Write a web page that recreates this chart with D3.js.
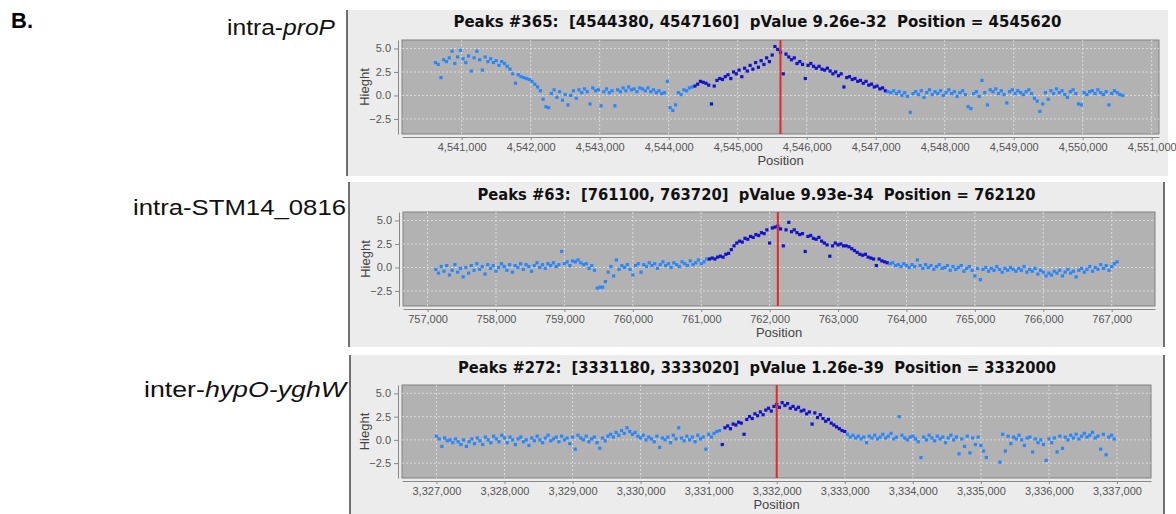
<!DOCTYPE html>
<html>
<head>
<meta charset="utf-8">
<script src="https://cdn.jsdelivr.net/npm/d3@7"></script>
<style>
  body { margin: 0; background: #fff; }
  svg { display: block; }
  .tick text { font-family: 'Liberation Sans', Arial, sans-serif; font-size: 11px; fill: #555; }
</style>
</head>
<body>
<svg id="chart" width="1176" height="514"></svg>
<script>
// peak info per track
var trackNames  = ['proP', 'STM14_0816', 'hypO-yghW'];
var peakIds     = ['365', '63', '272'];
var peakStarts  = [4544380, 761100, 3331180];
var peakEnds    = [4547160, 763720, 3333020];
var pValues     = ['9.26e-32', '9.93e-34', '1.26e-39'];
var peakCenters = [4545620, 762120, 3332000];

// first probe position of each track, probes every 40 bp
var sampleStarts = [4540620, 757120, 3327000];
var sampleStep = 40;

// heights (25 per 1000 bp)
var heightsProP = [
  3.5,3.3,1.9,3.8,3.6,4.0,4.7,3.4,4.1,4.8,3.9,3.5,4.2,2.6,4.0,4.7,3.8,2.7,4.1,3.6,3.9,3.5,3.7,3.2,3.6,
  3.4,3.1,2.8,2.3,1.3,2.2,2.0,1.9,1.8,1.7,1.5,1.2,0.9,0.5,-0.4,-1.2,-1.3,0.2,0.6,-0.2,0.4,-0.5,0.1,-1.0,0.0,
  0.5,-0.3,0.6,0.3,0.7,0.4,-0.9,0.8,0.5,0.6,-1.1,0.4,0.7,0.3,0.5,-1.1,0.6,0.4,0.8,0.5,0.9,0.6,0.7,0.4,0.8,
  0.7,0.5,0.8,0.4,0.6,0.3,0.5,0.2,0.3,1.5,-1.3,-1.6,-1.0,0.3,0.1,0.6,0.5,0.8,0.9,1.0,1.2,1.5,1.4,1.3,1.1,
  -0.9,1.0,1.6,1.8,1.7,2.0,2.2,1.8,2.5,2.3,2.7,2.0,2.9,2.6,3.2,2.8,3.5,3.0,3.7,3.3,4.0,3.6,4.3,5.2,4.9,
  4.6,2.3,4.4,4.1,3.8,4.0,3.4,3.6,3.3,1.8,3.2,3.4,3.1,2.9,3.1,2.8,2.7,2.9,2.6,2.3,2.5,2.1,2.3,0.9,1.9,
  2.0,1.7,1.8,1.5,1.6,1.3,1.5,1.1,1.2,0.9,1.0,0.7,0.8,0.5,0.4,0.3,0.5,0.2,0.4,0.0,0.3,-0.1,-1.8,0.2,0.4,
  0.1,0.5,-0.2,0.3,0.6,0.1,0.4,0.2,0.5,0.0,0.3,0.6,0.2,0.4,-0.1,0.3,0.5,0.1,-1.2,-1.4,0.2,0.4,-0.1,1.6,0.3,
  -1.0,0.6,0.4,0.7,0.2,0.5,0.1,-0.8,0.4,0.6,0.2,0.5,0.3,0.1,0.4,0.6,0.2,-0.3,-0.6,-1.7,-0.9,0.3,-0.4,0.5,0.2,
  0.7,0.3,0.5,0.1,-0.2,0.4,0.6,0.2,-0.9,-1.0,0.3,0.1,0.4,0.5,0.2,0.6,0.3,0.1,0.4,-1.0,0.2,0.5,0.3,0.1,0.0
];
var heightsSTM = [
  -0.2,-0.6,0.1,-0.4,0.2,-0.8,-0.3,0.3,-0.5,-0.1,-1.0,0.0,-0.6,0.2,-0.3,0.4,-0.2,0.1,-0.7,0.3,-0.1,0.2,-0.4,0.0,0.4,
  0.1,-0.3,0.3,-0.5,0.2,0.0,0.4,-0.2,0.3,0.1,-0.4,0.2,0.5,0.0,0.3,-0.1,0.4,0.2,0.5,0.1,0.3,1.7,0.4,0.6,0.2,
  0.7,0.6,0.8,0.5,0.3,0.4,-0.1,0.2,-0.3,-2.2,-2.1,-2.1,-1.5,-0.5,0.1,-0.9,0.8,-0.2,0.2,0.0,0.3,-0.2,-0.8,0.2,0.4,
  -0.5,0.3,0.1,0.5,0.2,0.4,-0.1,0.3,0.6,0.2,0.4,0.0,0.5,0.3,0.1,0.6,0.4,0.2,0.7,0.3,0.5,0.8,0.4,0.6,0.9,
  0.9,1.0,0.9,1.1,1.2,1.1,1.4,1.5,1.9,2.3,2.6,2.8,2.7,3.1,3.0,3.3,3.2,3.5,3.4,3.7,3.6,4.0,2.6,4.2,4.3,
  4.4,4.1,2.3,4.0,4.8,3.8,4.0,3.7,3.5,3.6,1.7,3.3,3.4,3.1,3.0,3.2,2.8,2.6,2.4,1.2,2.3,2.6,2.4,2.5,2.3,
  2.3,2.2,2.0,1.8,1.6,1.4,1.3,1.4,1.1,1.0,0.9,0.2,0.9,0.7,0.6,0.5,0.4,0.5,0.2,0.3,0.1,0.4,0.2,0.0,0.3,
  0.1,0.8,0.2,-0.1,0.3,0.0,0.2,-0.2,0.1,0.3,-0.1,0.0,0.2,-0.3,0.1,-0.2,0.0,0.2,-0.4,-0.1,0.1,-0.3,-0.9,-0.1,-1.3,
  -0.2,0.0,-0.4,-0.1,-0.3,0.1,-0.2,-0.5,-0.1,-0.3,0.0,-0.2,-0.4,-0.1,-0.3,0.1,-0.5,-0.2,-0.4,-0.1,-0.7,-0.3,-0.5,-0.9,-0.6,
  -0.8,-0.4,-0.6,-0.3,-0.9,-0.5,-0.2,-0.6,-0.4,-1.0,-0.3,-0.1,-0.5,-0.2,0.1,-0.4,0.0,-0.2,0.3,-0.1,0.2,-0.3,0.1,0.4,0.6
];
var heightsHyp = [
  0.4,0.1,-0.7,0.2,-0.1,0.0,-0.3,0.1,-0.2,-0.5,0.0,-0.7,-0.2,0.1,-0.4,0.2,-0.1,-0.5,0.3,0.0,-0.3,0.4,0.1,-0.2,0.5,
  0.2,-0.3,0.3,0.0,-0.5,0.1,0.3,-0.2,0.0,-0.6,0.2,-0.1,0.4,0.0,-0.3,0.2,0.5,-0.1,0.1,0.3,-0.2,0.4,0.0,0.2,-0.4,
  0.3,-1.0,0.5,0.2,0.0,0.4,-0.2,0.1,0.3,-0.3,-0.9,0.2,-0.1,0.4,0.6,0.3,0.8,0.5,1.0,0.7,1.3,0.9,0.6,0.8,0.4,
  0.2,0.5,0.0,0.3,0.1,-0.2,0.4,-0.8,0.2,0.0,0.3,-0.3,0.5,0.1,1.3,0.2,-0.1,0.4,0.0,0.3,-0.2,0.5,0.1,0.3,-1.0,
  0.6,0.3,0.7,0.9,1.0,-0.5,1.3,1.5,1.2,1.7,1.6,1.9,1.8,0.6,2.2,2.5,2.3,2.8,2.6,3.0,2.7,3.2,3.4,3.1,3.6,
  3.8,3.5,4.0,3.7,3.9,3.4,3.6,3.3,3.5,3.1,3.2,2.8,3.0,1.7,2.9,2.4,2.7,2.3,2.0,2.2,1.8,1.6,1.4,1.2,1.0,
  0.9,0.6,0.3,0.5,0.2,0.4,0.1,0.3,-0.3,0.4,0.2,0.5,0.1,0.3,0.6,0.2,0.4,0.7,0.1,0.3,2.5,0.5,0.2,0.0,0.3,
  0.4,0.1,-0.2,-1.9,0.3,0.0,0.5,0.2,-0.1,0.4,0.1,0.3,-0.3,0.2,0.5,0.0,0.3,-1.5,0.1,-0.7,0.4,-1.4,0.2,-0.5,0.3,
  -0.6,-1.2,-1.9,null,null,null,null,-2.4,0.6,-1.2,0.4,-0.4,0.3,0.1,0.5,0.0,-0.6,0.2,0.3,-1.3,0.1,-0.3,0.0,-0.5,-2.2,
  0.1,-0.3,0.2,-1.3,0.4,-0.9,0.3,0.0,0.5,0.2,0.6,0.1,0.4,0.7,0.3,0.5,0.8,0.2,0.4,-1.0,0.6,-1.6,0.3,0.5,0.1
];
var allHeights = [heightsProP, heightsSTM, heightsHyp];

// axis ticks
var yTicks = [-2.5, 0, 2.5, 5.0];
var xTicksProP = [4541000,4542000,4543000,4544000,4545000,4546000,4547000,4548000,4549000,4550000,4551000];
var xTicksSTM  = [757000,758000,759000,760000,761000,762000,763000,764000,765000,766000,767000];
var xTicksHyp  = [3327000,3328000,3329000,3330000,3331000,3332000,3333000,3334000,3335000,3336000,3337000];
var allXTicks = [xTicksProP, xTicksSTM, xTicksHyp];

// layout of the three screenshots
var frames = [
  { x0: 347, x1: 1168, y0: 10,  y1: 176, plot: [402, 40, 1159, 134],  xDomain: [4540135, 4551106],
    titleY: 27,  titleW: 608, labelX: 335, labelY: 35,  labelW: 108, rightBorder: false },
  { x0: 349, x1: 1164, y0: 182, y1: 347, plot: [403, 212, 1155, 306], xDomain: [756641, 767633],
    titleY: 200, titleW: 558, labelX: 346, labelY: 215, labelW: 213, rightBorder: true },
  { x0: 350, x1: 1164, y0: 355, y1: 514, plot: [402, 385, 1151, 478], xDomain: [3326494, 3337500],
    titleY: 373, titleW: 598, labelX: 346, labelY: 397, labelW: 202, rightBorder: true }
];
var yDomain = [-4.1, 5.9];

var lightBlue = '#2a86fb',
    darkBlue  = '#1212cc',
    peakRed   = '#e3262a';

var svg = d3.select('#chart');

svg.append('text')
  .attr('x', 11).attr('y', 28)
  .style('font-family', "'Liberation Sans', Arial, sans-serif")
  .style('font-size', '22px')
  .style('font-weight', 'bold')
  .text('B.');

frames.forEach(function(f, k) {
  var left = f.plot[0], top = f.plot[1], right = f.plot[2], bottom = f.plot[3];

  // row label on the left
  var lab = svg.append('text')
    .attr('x', f.labelX).attr('y', f.labelY)
    .attr('text-anchor', 'end')
    .attr('textLength', f.labelW)
    .attr('lengthAdjust', 'spacingAndGlyphs')
    .style('font-family', "'Liberation Sans', Arial, sans-serif")
    .style('font-size', '22px')
    .style('fill', '#111');
  if (k === 0) {
    lab.append('tspan').text('intra-');
    lab.append('tspan').style('font-style', 'italic').text(trackNames[k]);
  } else if (k === 1) {
    lab.append('tspan').text('intra-' + trackNames[k]);
  } else {
    lab.append('tspan').text('inter-');
    lab.append('tspan').style('font-style', 'italic').text(trackNames[k]);
  }

  // screenshot background + borders
  var g = svg.append('g');
  g.append('rect')
    .attr('x', f.x0).attr('y', f.y0)
    .attr('width', f.x1 - f.x0).attr('height', f.y1 - f.y0)
    .attr('fill', '#ececec');
  g.append('line')
    .attr('x1', f.x0).attr('x2', f.x0).attr('y1', f.y0).attr('y2', f.y1)
    .attr('stroke', '#444').attr('stroke-width', 1.5);
  if (f.rightBorder) {
    g.append('line')
      .attr('x1', f.x1).attr('x2', f.x1).attr('y1', f.y0).attr('y2', f.y1)
      .attr('stroke', '#444').attr('stroke-width', 1.5);
  }

  // title
  g.append('text')
    .attr('x', (f.x0 + f.x1) / 2).attr('y', f.titleY)
    .attr('text-anchor', 'middle')
    .attr('textLength', f.titleW)
    .attr('lengthAdjust', 'spacingAndGlyphs')
    .attr('xml:space', 'preserve')
    .style('white-space', 'pre')
    .style('font-family', "'DejaVu Sans', Tahoma, sans-serif")
    .style('font-size', '16px')
    .style('font-weight', 'bold')
    .style('fill', '#111')
    .text('Peaks #' + peakIds[k] + ':  [' + peakStarts[k] + ', ' + peakEnds[k] + ']  pValue ' +
          pValues[k] + '  Position = ' + peakCenters[k]);

  var x = d3.scaleLinear().domain(f.xDomain).range([left, right]);
  var y = d3.scaleLinear().domain(yDomain).range([bottom, top]);

  // plot area
  g.append('rect')
    .attr('x', left).attr('y', top)
    .attr('width', right - left).attr('height', bottom - top)
    .attr('fill', '#b2b2b2')
    .attr('stroke', '#808080');

  // grid
  g.selectAll('.hgrid').data(yTicks).enter().append('line')
    .attr('x1', left).attr('x2', right)
    .attr('y1', function(d) { return y(d); }).attr('y2', function(d) { return y(d); })
    .attr('stroke', '#e6e6e6').attr('stroke-width', 0.8).attr('stroke-dasharray', '2,2');
  g.selectAll('.vgrid').data(allXTicks[k]).enter().append('line')
    .attr('x1', function(d) { return x(d); }).attr('x2', function(d) { return x(d); })
    .attr('y1', top).attr('y2', bottom)
    .attr('stroke', '#e6e6e6').attr('stroke-width', 0.8).attr('stroke-dasharray', '2,2');

  // points
  var heights = allHeights[k];
  var pts = heights.map(function(h, i) {
    return { pos: sampleStarts[k] + i * sampleStep, h: h };
  }).filter(function(d) { return d.h !== null; });

  g.selectAll('.pt').data(pts).enter().append('rect')
    .attr('x', function(d) { return x(d.pos) - 1.6; })
    .attr('y', function(d) { return y(d.h) - 1.6; })
    .attr('width', 3.2).attr('height', 3.2)
    .attr('fill', function(d) {
      return (d.pos >= peakStarts[k] && d.pos <= peakEnds[k]) ? darkBlue : lightBlue;
    });

  // peak position marker
  g.append('line')
    .attr('x1', x(peakCenters[k])).attr('x2', x(peakCenters[k]))
    .attr('y1', top).attr('y2', bottom)
    .attr('stroke', peakRed).attr('stroke-width', 2);

  // axes
  var yAxis = d3.axisLeft(y).tickValues(yTicks).tickFormat(d3.format('.1f')).tickSize(4).tickPadding(3).tickSizeOuter(0);
  var ya = g.append('g').attr('transform', 'translate(' + (left - 4) + ',0)').call(yAxis);
  ya.select('.domain').attr('stroke', '#888');
  ya.selectAll('.tick line').attr('stroke', '#888');

  var xAxis = d3.axisBottom(x).tickValues(allXTicks[k]).tickFormat(d3.format(',')).tickSize(3).tickPadding(3).tickSizeOuter(0);
  var xa = g.append('g').attr('transform', 'translate(0,' + (bottom + 3) + ')').call(xAxis);
  xa.select('.domain').attr('stroke', '#888');
  xa.selectAll('.tick line').attr('stroke', '#888');

  // axis titles
  g.append('text')
    .attr('transform', 'translate(' + (left - 33) + ',' + ((top + bottom) / 2) + ') rotate(-90)')
    .attr('text-anchor', 'middle')
    .style('font-family', "'Liberation Sans', Arial, sans-serif")
    .style('font-size', '13px')
    .style('fill', '#444')
    .text('Hieght');

  g.append('text')
    .attr('x', (left + right) / 2).attr('y', bottom + 31)
    .attr('text-anchor', 'middle')
    .style('font-family', "'Liberation Sans', Arial, sans-serif")
    .style('font-size', '13px')
    .style('fill', '#444')
    .text('Position');
});
</script>
</body>
</html>
